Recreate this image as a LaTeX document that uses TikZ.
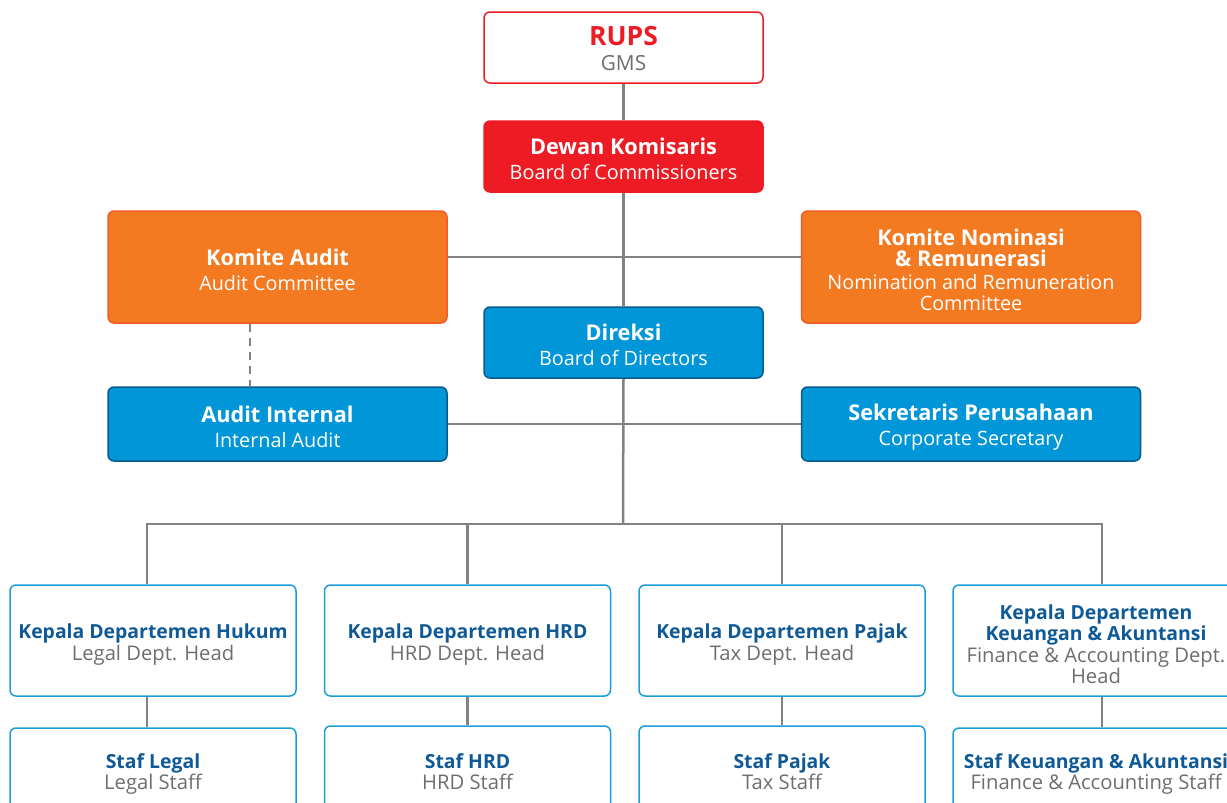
\documentclass[tikz,border=0pt]{standalone}
\usepackage{fontspec}
\setmainfont{Open Sans}
\usetikzlibrary{backgrounds}
\definecolor{cred}{HTML}{ED1C24}
\definecolor{corange}{HTML}{F47A22}
\definecolor{corangeb}{HTML}{F15A29}
\definecolor{cblue}{HTML}{0096D8}
\definecolor{cblueb}{HTML}{0B5A8E}
\definecolor{clight}{HTML}{1B9DD9}
\definecolor{cdark}{HTML}{0F5A96}
\definecolor{cgray}{HTML}{6D6E71}
\definecolor{cline}{HTML}{808285}
\tikzset{
  box/.style={rectangle, rounded corners=6pt, line width=1.5pt, align=center, inner sep=0pt,
    font=\fontsize{19}{21}\selectfont},
  bigbox/.style={box, minimum width=279pt, minimum height=71pt},
  sidebox/.style={box, minimum width=339pt},
  deptbox/.style={box, draw=clight, fill=white, minimum width=286pt, minimum height=111pt},
  staffbox/.style={box, draw=clight, fill=white, minimum width=286pt, minimum height=84pt},
  conn/.style={draw=cline, line width=2.5pt},
  dconn/.style={draw=cline, line width=2.5pt, dash pattern=on 8pt off 6pt},
}
\newcommand{\tp}{\rule{0pt}{22pt}}
\newcommand{\myhb}[1]{{\fontsize{21.7}{21}\selectfont\bfseries #1}}
\newcommand{\mysb}[1]{{\fontsize{19.8}{21}\selectfont #1}}
\newcommand{\mydb}[1]{{\fontsize{19.4}{21}\selectfont\bfseries\color{cdark}#1}}
\newcommand{\myds}[1]{{\fontsize{20.2}{21}\selectfont\color{cgray}#1}}
\begin{document}
\begin{tikzpicture}[x=1pt,y=-1pt]
\useasboundingbox (0,0) rectangle (1227,803);
\clip (0,0) rectangle (1227,803);

\node[bigbox, draw=cred, fill=white] (rups) at (623.5,47.5)
  {\tp{\fontsize{26.5}{21}\selectfont\bfseries\color{cred}RUPS}\\[4pt]{\fontsize{20.8}{21}\selectfont\color{cgray}GMS}};
\node[bigbox, draw=cred, fill=cred, text=white] (dk) at (623.5,156.5)
  {\tp\myhb{Dewan Komisaris}\\[4pt]\mysb{Board of Commissioners}};
\node[sidebox, minimum height=112pt, draw=corangeb, fill=corange, text=white] (ka) at (277.5,267)
  {\tp\myhb{Komite Audit}\\[4pt]\mysb{Audit Committee}};
\node[sidebox, minimum height=112pt, draw=corangeb, fill=corange, text=white] (kn) at (971,267)
  {\tp\myhb{Komite Nominasi}\\\myhb{\& Remunerasi}\\[2pt]\mysb{Nomination and Remuneration}\\\mysb{Committee}};
\node[bigbox, draw=cblueb, fill=cblue, text=white] (dir) at (623.5,342.5)
  {\tp\myhb{Direksi}\\[4pt]\mysb{Board of Directors}};
\node[sidebox, minimum height=74pt, draw=cblueb, fill=cblue, text=white] (ai) at (277.5,424)
  {\tp\myhb{Audit Internal}\\[4pt]\mysb{Internal Audit}};
\node[sidebox, minimum height=74pt, draw=cblueb, fill=cblue, text=white] (sk) at (971,424)
  {\tp\myhb{Sekretaris Perusahaan}\\[4pt]\mysb{Corporate Secretary}};

\node[deptbox] (d1) at (153,640.5) {\tp\mydb{Kepala Departemen Hukum}\\[1pt]\myds{Legal Dept. Head}};
\node[deptbox] (d2) at (467.5,640.5) {\tp\mydb{Kepala Departemen HRD}\\[1pt]\myds{HRD Dept. Head}};
\node[deptbox] (d3) at (782,640.5) {\tp\mydb{Kepala Departemen Pajak}\\[1pt]\myds{Tax Dept. Head}};
\node[deptbox] (d4) at (1096,640.5) {\tp\mydb{Kepala Departemen}\\\mydb{Keuangan \& Akuntansi}\\[1pt]\myds{Finance \& Accounting Dept.}\\\myds{Head}};

\node[staffbox] (s1) at (153,770) {\tp\mydb{Staf Legal}\\\myds{Legal Staff}};
\node[staffbox] (s2) at (467.5,768) {\tp\mydb{Staf HRD}\\\myds{HRD Staff}};
\node[staffbox] (s3) at (782,768) {\tp\mydb{Staf Pajak}\\\myds{Tax Staff}};
\node[staffbox] (s4) at (1096,770) {\tp\mydb{Staf Keuangan \& Akuntansi}\\\myds{Finance \& Accounting Staff}};

\coordinate (bus) at (623,524);
\coordinate (k1) at (623,257);

\begin{scope}[on background layer]
\draw[conn] (rups.south) -- (dk.north);
\draw[conn] (dk.south) -- (dir.north);
\draw[conn] (dir.south) -- (bus);
\draw[conn] (ka.east |- k1) -- (kn.west |- k1);
\draw[conn] (ai.east) -- (sk.west);
\draw[dconn] (ka.south -| 250,0) -- (ai.north -| 250,0);
\draw[conn] ([xshift=-6pt]d1.north) |- (bus) -| ([xshift=6pt]d4.north);
\draw[conn] (d2.north) -- (d2.north |- bus);
\draw[conn] (d3.north) -- (d3.north |- bus);
\draw[conn] ([xshift=-6pt]d1.south) -- ([xshift=-6pt]d1.south |- s1.north);
\draw[conn] (d2.south) -- (s2.north);
\draw[conn] (d3.south) -- (s3.north);
\draw[conn] ([xshift=6pt]d4.south) -- ([xshift=6pt]d4.south |- s4.north);
\end{scope}
\end{tikzpicture}
\end{document}
